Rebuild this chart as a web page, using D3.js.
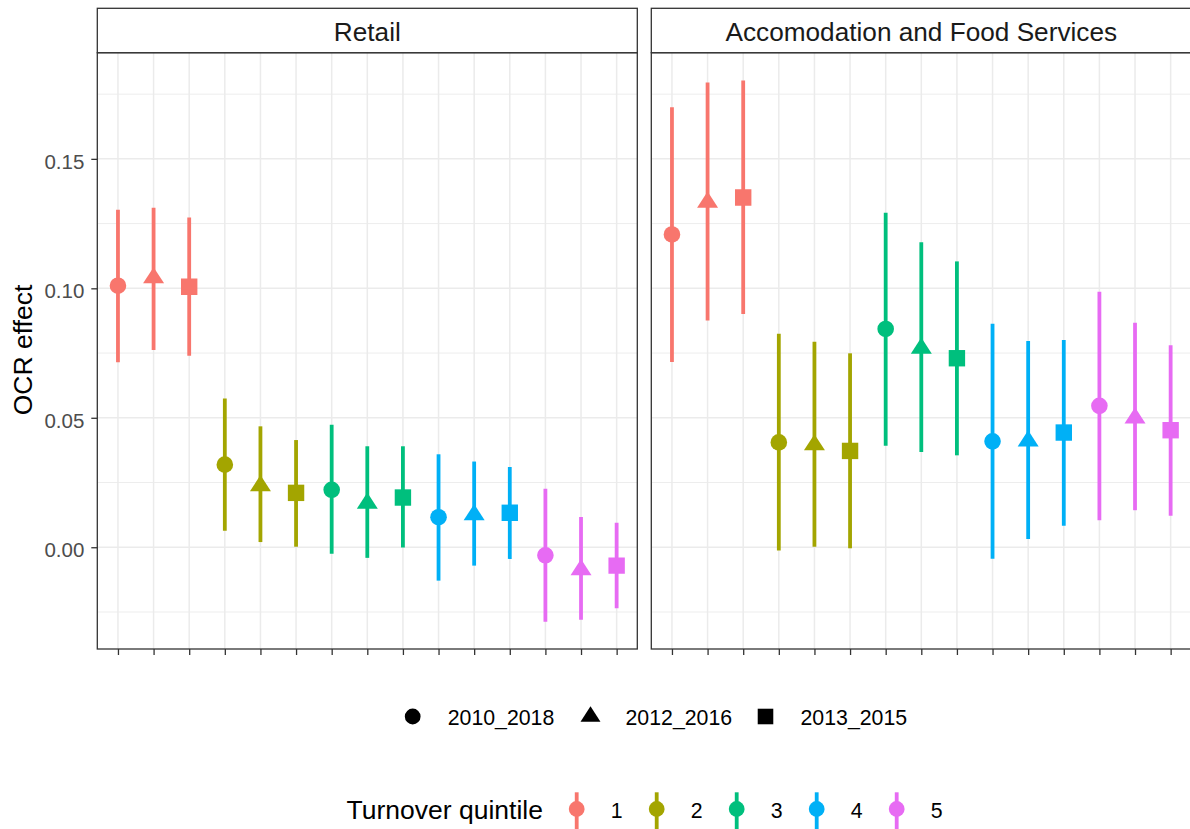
<!DOCTYPE html>
<html>
<head>
<meta charset="utf-8">
<script src="https://cdn.jsdelivr.net/npm/d3@7"></script>
<style>
  html, body { margin: 0; padding: 0; background: #fff; }
  svg { display: block; font-family: "Liberation Sans", Arial, sans-serif; }
</style>
</head>
<body>
<svg id="chart" width="1190" height="829"></svg>
<script>
// Facets, groups and period labels
const panels = ["Retail", "Accomodation and Food Services"];
const quintiles = ["1", "2", "3", "4", "5"];
const periods = ["2010_2018", "2012_2016", "2013_2015"];
const yTicks = [0.00, 0.05, 0.10, 0.15];
const yMinor = [-0.025, 0.025, 0.075, 0.125, 0.175];

// Estimates and interval bounds, ordered quintile by quintile, period within quintile
const retailEst  = [0.1010, 0.1040, 0.1006, 0.0319, 0.0237, 0.0210, 0.0222, 0.0170, 0.0192, 0.0116, 0.0125, 0.0133, -0.0031, -0.0087, -0.0071];
const retailHigh = [0.1303, 0.1311, 0.1274, 0.0574, 0.0467, 0.0414, 0.0473, 0.0390, 0.0390, 0.0359, 0.0331, 0.0310, 0.0226, 0.0117, 0.0095];
const retailLow  = [0.0714, 0.0762, 0.0740, 0.0064, 0.0020, 0.0002, -0.0025, -0.0041, -0.0001, -0.0129, -0.0071, -0.0045, -0.0288, -0.0280, -0.0236];

const foodEst  = [0.1208, 0.1332, 0.1351, 0.0405, 0.0395, 0.0372, 0.0843, 0.0768, 0.0730, 0.0409, 0.0410, 0.0443, 0.0546, 0.0499, 0.0452];
const foodHigh = [0.1699, 0.1795, 0.1803, 0.0825, 0.0794, 0.0749, 0.1292, 0.1178, 0.1104, 0.0863, 0.0797, 0.0800, 0.0987, 0.0867, 0.0780];
const foodLow  = [0.0715, 0.0876, 0.0901, -0.0013, 0.0002, -0.0004, 0.0392, 0.0368, 0.0355, -0.0044, 0.0032, 0.0083, 0.0104, 0.0143, 0.0122];

const colors = ["#F8766D", "#A3A500", "#00BF7D", "#00B0F6", "#E76BF3"];

// Build long-form rows per panel
function rows(est, low, high) {
  const out = [];
  quintiles.forEach((q, qi) => {
    periods.forEach((p, pi) => {
      const i = qi * periods.length + pi;
      out.push({ key: q + "|" + p, quintile: q, period: p, est: est[i], low: low[i], high: high[i] });
    });
  });
  return out;
}
const panelData = [rows(retailEst, retailLow, retailHigh), rows(foodEst, foodLow, foodHigh)];

const svg = d3.select("#chart");

const panelTop = 52.7, panelBottom = 649, stripTop = 8.3;
const panelX = [[97.3, 637.3], [651.3, 1191.3]];

const y = d3.scaleLinear().domain([-0.0393, 0.191]).range([panelBottom, panelTop]);
const color = d3.scaleOrdinal().domain(quintiles).range(colors);

// Point shapes in the style of R's pch 16 / 17 / 15
function shapePath(period, cx, cy, k) {
  k = k || 1;
  if (period === periods[0]) {
    const r = 8.3 * k;
    return `M${cx - r},${cy}a${r},${r} 0 1,0 ${2 * r},0a${r},${r} 0 1,0 ${-2 * r},0Z`;
  } else if (period === periods[1]) {
    const hw = 10.5 * k, up = 10.8 * k, dn = 5.4 * k;
    return `M${cx},${cy - up}L${cx + hw},${cy + dn}L${cx - hw},${cy + dn}Z`;
  } else {
    const h = 8.2 * k;
    return `M${cx - h},${cy - h}H${cx + h}V${cy + h}H${cx - h}Z`;
  }
}

panelData.forEach((data, pi) => {
  const [x0, x1] = panelX[pi];
  const x = d3.scalePoint().domain(data.map(d => d.key)).range([x0, x1]).padding(0.58);
  const g = svg.append("g");

  // clip to panel
  const clipId = "clip" + pi;
  svg.append("clipPath").attr("id", clipId)
    .append("rect").attr("x", x0).attr("y", panelTop).attr("width", x1 - x0).attr("height", panelBottom - panelTop);

  const inner = g.append("g").attr("clip-path", `url(#${clipId})`);

  // minor horizontal grid
  inner.selectAll(".ymin").data(yMinor).join("line")
    .attr("x1", x0).attr("x2", x1)
    .attr("y1", d => y(d)).attr("y2", d => y(d))
    .attr("stroke", "#EBEBEB").attr("stroke-width", 0.9);
  // major horizontal grid
  inner.selectAll(".ymaj").data(yTicks).join("line")
    .attr("x1", x0).attr("x2", x1)
    .attr("y1", d => y(d)).attr("y2", d => y(d))
    .attr("stroke", "#EBEBEB").attr("stroke-width", 1.5);
  // vertical grid
  inner.selectAll(".xmaj").data(x.domain()).join("line")
    .attr("x1", d => x(d)).attr("x2", d => x(d))
    .attr("y1", panelTop).attr("y2", panelBottom)
    .attr("stroke", "#EBEBEB").attr("stroke-width", 1.5);

  // interval lines
  inner.selectAll(".rng").data(data).join("line")
    .attr("x1", d => x(d.key)).attr("x2", d => x(d.key))
    .attr("y1", d => y(d.high)).attr("y2", d => y(d.low))
    .attr("stroke", d => color(d.quintile)).attr("stroke-width", 3.8);

  // point estimates
  inner.selectAll(".pt").data(data).join("path")
    .attr("d", d => shapePath(d.period, x(d.key), y(d.est)))
    .attr("fill", d => color(d.quintile));

  // panel border
  g.append("rect").attr("x", x0).attr("y", panelTop).attr("width", x1 - x0).attr("height", panelBottom - panelTop)
    .attr("fill", "none").attr("stroke", "#333333").attr("stroke-width", 1.3);

  // strip
  g.append("rect").attr("x", x0).attr("y", stripTop).attr("width", x1 - x0).attr("height", panelTop - stripTop)
    .attr("fill", "#fff").attr("stroke", "#333333").attr("stroke-width", 1.3);
  g.append("text").attr("x", (x0 + x1) / 2).attr("y", 40.7)
    .attr("text-anchor", "middle").attr("font-size", 26.2).attr("fill", "#1A1A1A")
    .text(panels[pi]);

  // x axis ticks (no labels)
  const xAxis = d3.axisBottom(x).tickSize(6).tickFormat("");
  const ax = g.append("g").attr("transform", `translate(0,${panelBottom})`).call(xAxis);
  ax.select(".domain").remove();
  ax.selectAll(".tick line").attr("stroke", "#333333").attr("stroke-width", 1.3);
});

// y axis on the left panel
const yAxis = d3.axisLeft(y).tickValues(yTicks).tickSize(6).tickPadding(7)
  .tickFormat(d3.format(".2f"));
const ay = svg.append("g").attr("transform", `translate(${panelX[0][0]},0)`).call(yAxis);
ay.select(".domain").remove();
ay.selectAll(".tick line").attr("stroke", "#333333").attr("stroke-width", 1.3);
ay.selectAll(".tick text").attr("font-size", 20.5).attr("fill", "#4D4D4D")
  .attr("font-family", "'Liberation Sans', Arial, sans-serif").attr("dy", "0.45em");

// y axis title
svg.append("text").attr("transform", "translate(32,350) rotate(-90)")
  .attr("text-anchor", "middle").attr("font-size", 26.5).attr("fill", "#000")
  .text("OCR effect");

// shape legend
const shapeLeg = svg.append("g");
const shapeX = [412.7, 590.5, 765.5];
periods.forEach((p, i) => {
  shapeLeg.append("path").attr("d", shapePath(p, shapeX[i], 716.5, 0.95)).attr("fill", "#000");
  shapeLeg.append("text").attr("x", shapeX[i] + 35).attr("y", 724.5)
    .attr("font-size", 21.3).attr("fill", "#000").text(p);
});

// colour legend
const colLeg = svg.append("g");
colLeg.append("text").attr("x", 346.5).attr("y", 819).attr("font-size", 26.5).attr("fill", "#000")
  .text("Turnover quintile");
const keyX = d3.scalePoint().domain(quintiles).range([576.7, 896.7]);
quintiles.forEach(q => {
  const cx = keyX(q);
  colLeg.append("line").attr("x1", cx).attr("x2", cx).attr("y1", 792.3).attr("y2", 829)
    .attr("stroke", color(q)).attr("stroke-width", 3.8);
  colLeg.append("circle").attr("cx", cx).attr("cy", 809).attr("r", 7.9).attr("fill", color(q));
  colLeg.append("text").attr("x", cx + 34).attr("y", 817.5).attr("font-size", 21.3).attr("fill", "#000").text(q);
});
</script>
</body>
</html>
